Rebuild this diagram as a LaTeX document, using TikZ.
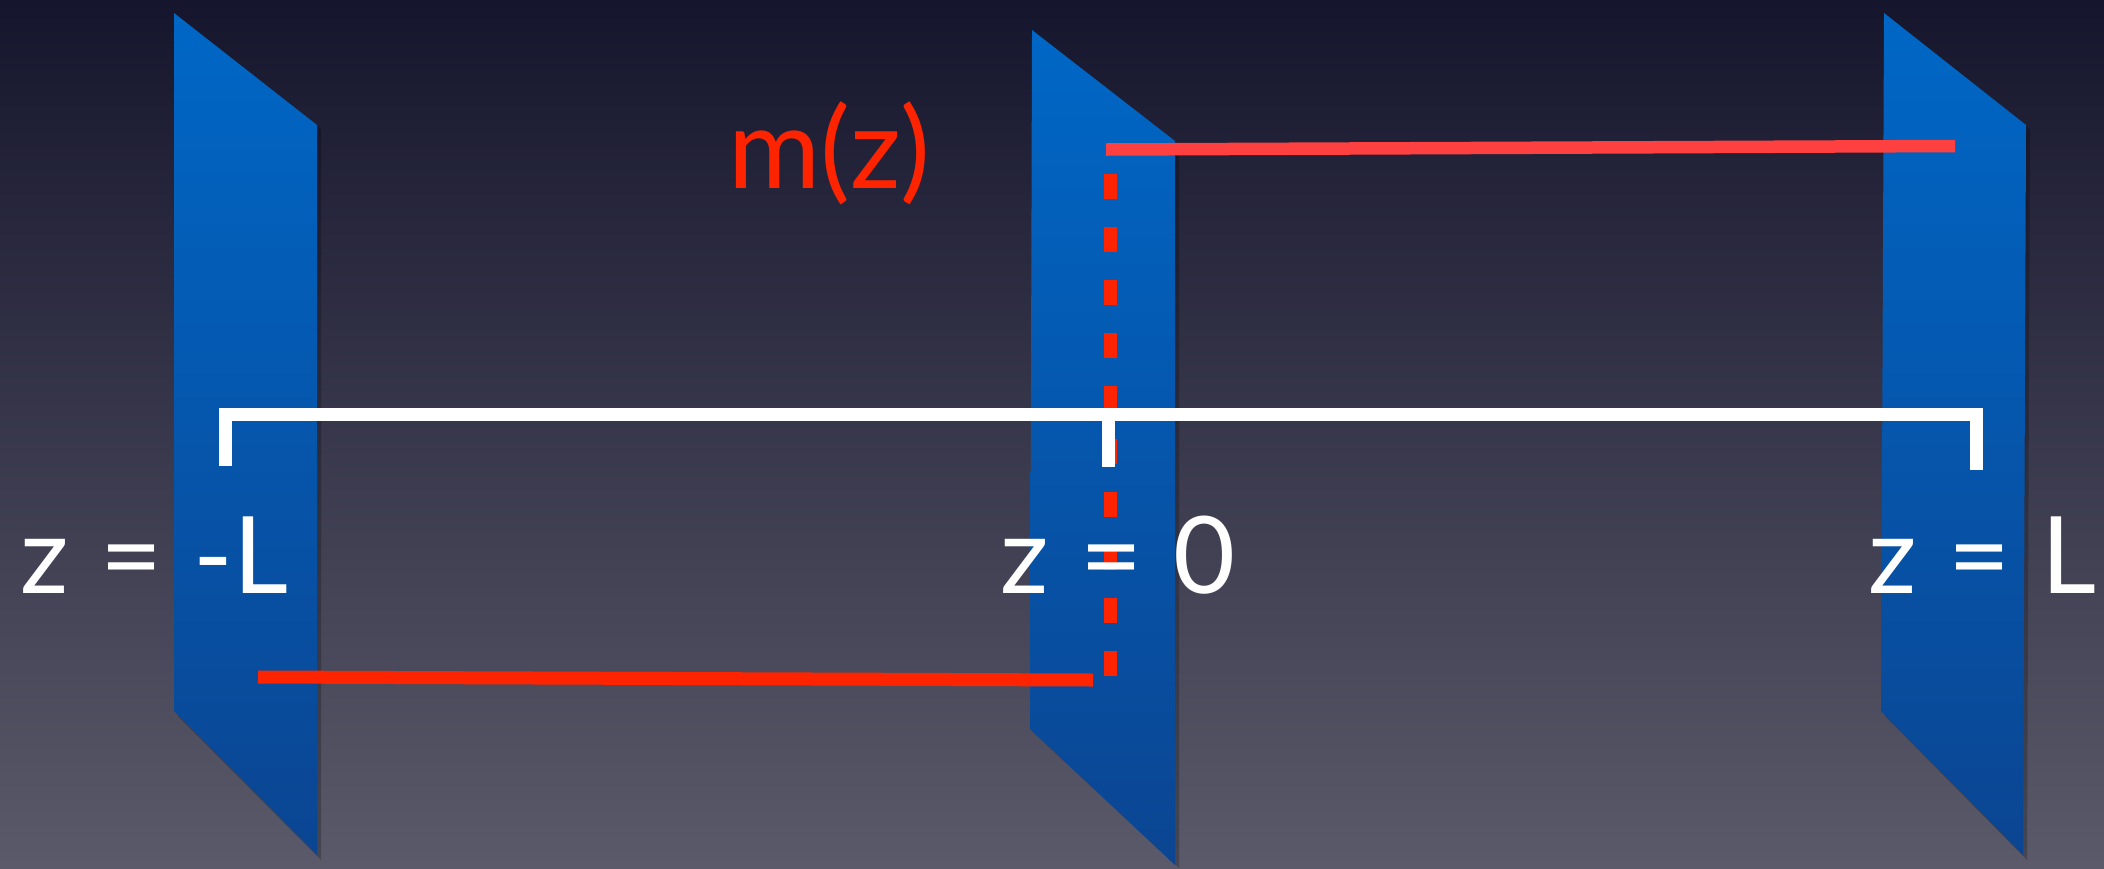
\documentclass[tikz,border=0pt]{standalone}
\usepackage{fontspec}
\setmainfont[WordSpace=1.15]{Lato}
\definecolor{bgtop}{HTML}{15152D}
\definecolor{bgbot}{HTML}{5B5A6A}
\definecolor{planetop}{HTML}{0067C6}
\definecolor{planebot}{HTML}{0B4592}
\definecolor{redlight}{HTML}{FF4040}
\definecolor{redmain}{HTML}{FF2400}
\tikzset{
  plane/.style={top color=planetop, bottom color=planebot},
  planeshadow/.style={fill=black, opacity=0.22},
  bracket/.style={draw=white, line width=13pt, line join=miter, line cap=butt},
  redline/.style={draw=redmain, line width=13pt, line cap=butt},
  redtop/.style={draw=redlight, line width=12.5pt, line cap=butt},
  reddash/.style={draw=redmain, line width=13pt, dash pattern=on 25pt off 28pt},
  lbl/.style={text=white, inner sep=0pt, anchor=base west, font=\fontsize{107}{120}\selectfont},
  mzlbl/.style={text=redmain, inner sep=0pt, anchor=base west, font=\fontsize{112}{130}\selectfont}
}
\begin{document}
\begin{tikzpicture}[x=1pt,y=-1pt]
\shade[top color=bgtop, bottom color=bgbot] (0,0) rectangle (2104,868);
\useasboundingbox (0,0) rectangle (2104,868);

% planes (shadows)
\fill[planeshadow] (178,17) -- (321,129) -- (321,860) -- (178,716) -- cycle;
\fill[planeshadow] (1035,34) -- (1179,145) -- (1179,868) -- (1034,733) -- cycle;
\fill[planeshadow] (1888,17) -- (2030,129) -- (2027,860) -- (1885,716) -- cycle;
% planes
\shade[plane] (174,13) -- (317,125) -- (317,855) -- (174,711) -- cycle;
\shade[plane] (1032,30) -- (1175,141) -- (1175,865) -- (1030,729) -- cycle;
\shade[plane] (1884,13) -- (2026,125) -- (2023,855) -- (1881,711) -- cycle;

% coordinates
\coordinate (tL) at (225,466);
\coordinate (tLtop) at (225,414);
\coordinate (tM) at (1108,467);
\coordinate (tMtop) at (1108,414);
\coordinate (tR) at (1976,470);
\coordinate (tRtop) at (1976,414);
\coordinate (rtA) at (1106,149.5);
\coordinate (rtB) at (1955,146);
\coordinate (rbA) at (258,677);
\coordinate (rbB) at (1093,680);
\coordinate (dA) at (1110,174);
\coordinate (dB) at (1110,678);

% red lines
\draw[reddash] (dA) -- (dB);
\draw[redtop] (rtA) -- (rtB);
\draw[redline] (rbA) -- (rbB);

% white bracket
\draw[bracket] (tL) -- (tLtop) -- (tRtop) -- (tR);
\draw[bracket] (tMtop) -- (tM);

% labels
\node[lbl] (lblL) at (20,593) {z = -L};
\node[lbl] (lbl0) at (1000,593) {z = 0};
\node[lbl] (lblR) at (1868,593) {z = L};
\node[mzlbl] (mz) at (728,188) {m(z)};
\end{tikzpicture}
\end{document}
